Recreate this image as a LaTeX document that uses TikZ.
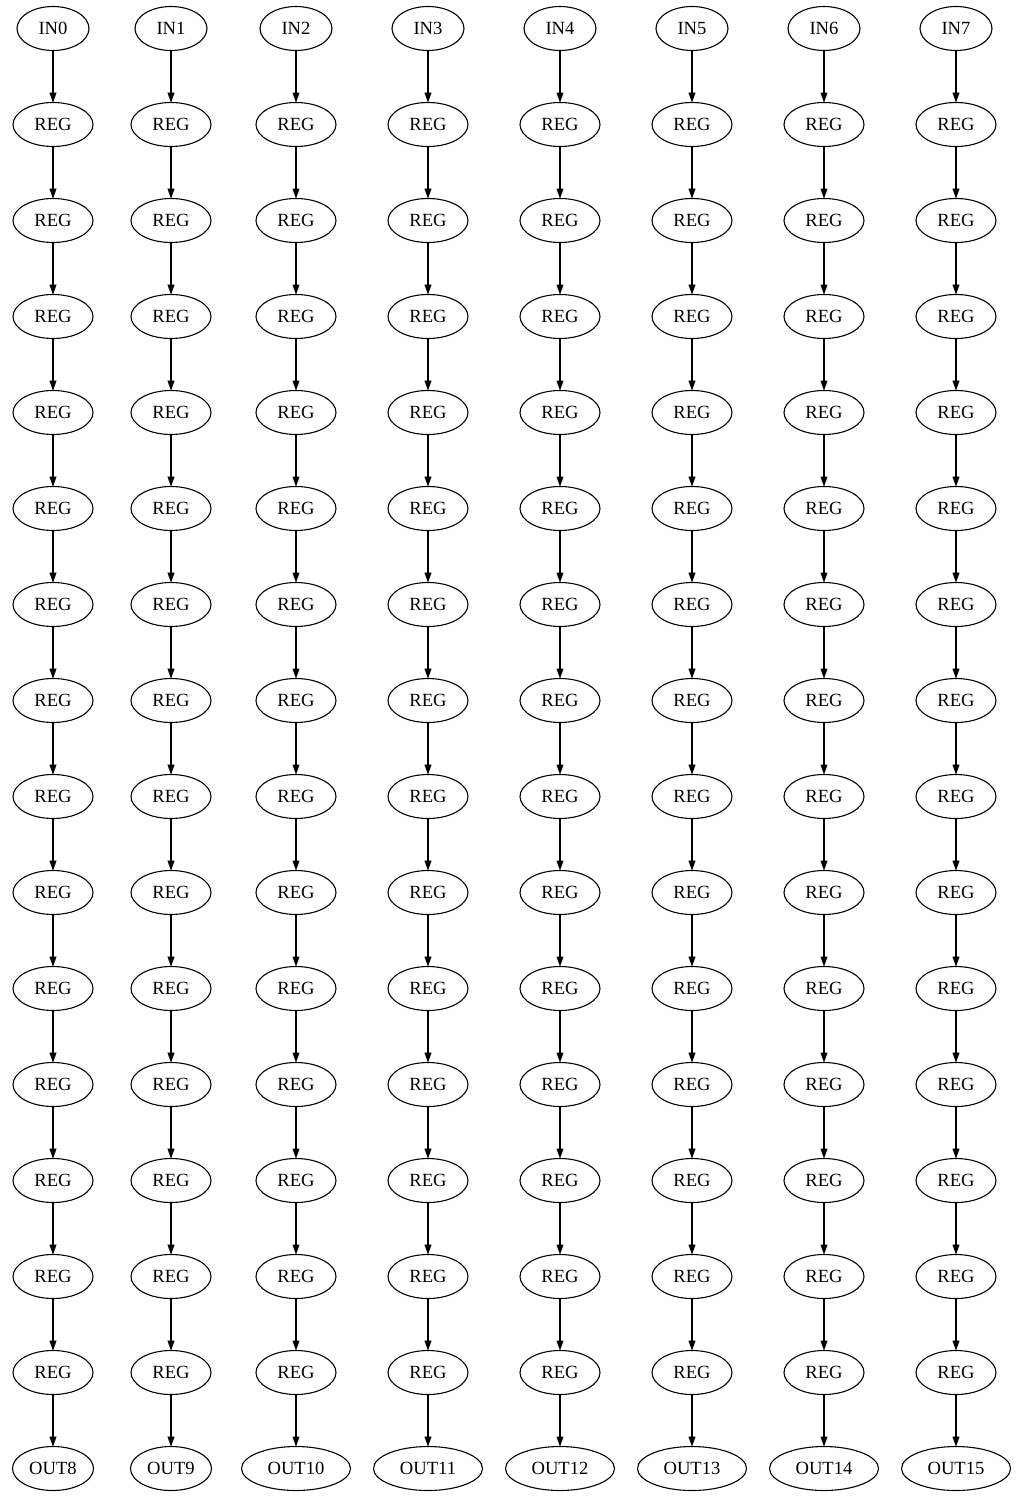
\documentclass[tikz,border=0pt]{standalone}
\usepackage{fontspec}
\setmainfont{Liberation Serif}
\usetikzlibrary{arrows.meta, positioning, shapes.geometric}

\begin{document}
\begin{tikzpicture}[
    >={Triangle[length=10pt, width=7pt]},
    line width=1.1pt,
    gnode/.style={draw, ellipse, inner sep=0pt, outer sep=0pt,
                  minimum height=44pt, text height=12pt, text depth=0pt,
                  font=\fontsize{18.6}{21}\selectfont},
    innode/.style={gnode, minimum width=72pt},
    regnode/.style={gnode, minimum width=80pt},
    outnode/.style={gnode, minimum width=#1}
  ]
  \useasboundingbox (0,0) rectangle (1016pt,-1499pt);

  \foreach \x [count=\c from 0] in {53,171,296,428,560,692,824,956} {
    \node[innode] (in\c) at (\x pt,-28.5pt) {IN\c};
    \node[regnode] (reg\c-1) at (\x pt,-124.5pt) {REG};
    \draw[->] (in\c) -- (reg\c-1);
    \foreach \r [evaluate=\r as \p using int(\r-1)] in {2,...,14} {
      \node[regnode] (reg\c-\r) at (\x pt,-28.5pt-96pt*\r) {REG};
      \draw[->] (reg\c-\p) -- (reg\c-\r);
    }
    \pgfmathtruncatemacro\o{\c+8}
    \pgfmathtruncatemacro\ow{\o<10 ? 81 : 109}
    \node[outnode=\ow pt] (out\o) at (\x pt,-1468.5pt) {OUT\o};
    \draw[->] (reg\c-14) -- (out\o);
  }
\end{tikzpicture}
\end{document}
